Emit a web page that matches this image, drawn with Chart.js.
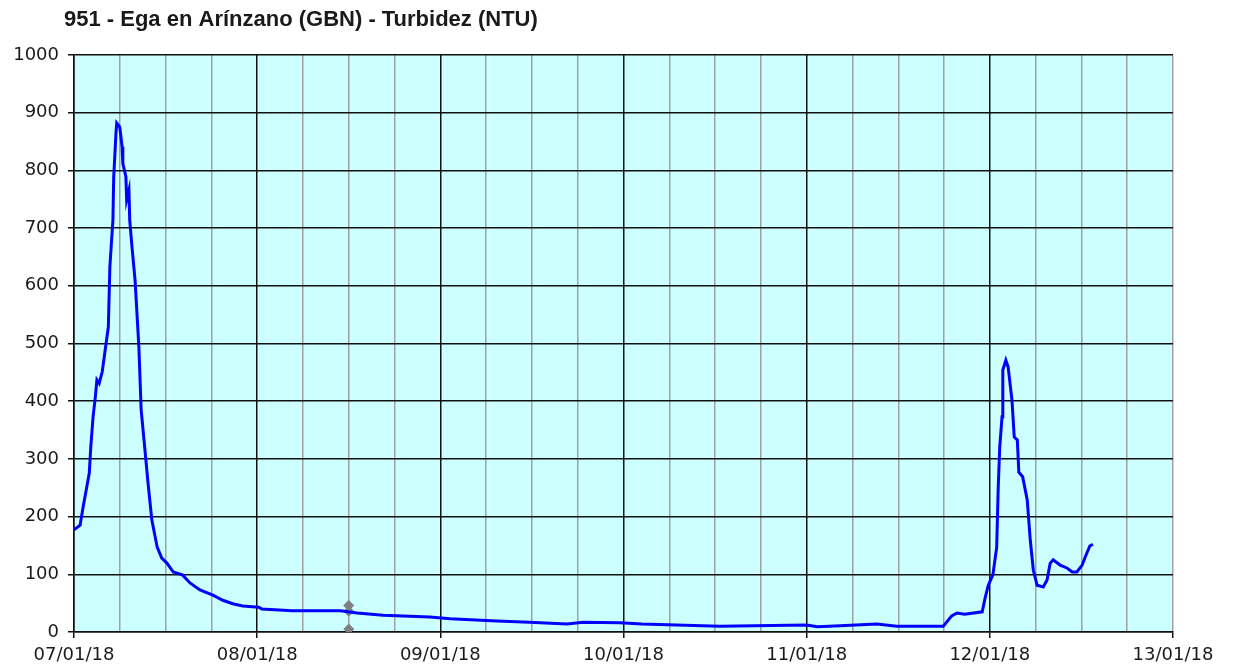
<!DOCTYPE html>
<html>
<head>
<meta charset="utf-8">
<script src="https://cdn.jsdelivr.net/npm/chart.js@4/dist/chart.umd.min.js"></script>
<style>
  html, body { margin: 0; padding: 0; background: #fff; }
  #wrap { width: 1233px; height: 672px; }
</style>
</head>
<body>
<div id="wrap"><canvas id="chart"></canvas></div>
<script>
const chartTitle = '951 - Ega en Arínzano (GBN) - Turbidez (NTU)';

// hours since 07/01/18 00:00
const hours = [
  0, 0.8, 1.2, 1.6, 2.0, 2.2, 2.5, 2.8, 3.0, 3.3, 3.7, 4.1, 4.5, 4.7, 5.1, 5.2, 5.5, 5.6,
  6.0, 6.3, 6.4, 6.8, 6.9, 7.2, 7.3, 7.6, 8.0, 8.3, 8.5, 8.8, 9.3, 9.7, 10.2, 10.9, 11.5,
  12.2, 13.0, 14.2, 15.2, 16.5, 18.2, 19.5, 20.8, 22.1, 24.2, 24.6, 28.6, 34.9, 37.1,
  40.5, 46.6, 49.3, 55.4, 59.7, 64.6, 66.7, 71.5, 74.4, 84.6, 96.0, 97.4, 100.4, 105.2,
  107.8, 113.9, 115.0, 115.7, 116.7, 119.0, 119.4, 119.8, 120.4, 120.9, 121.1, 121.3,
  121.6, 121.7, 122.1, 122.4, 122.9, 123.2, 123.6, 123.8, 124.3, 124.9, 125.3, 125.7,
  126.2, 127.0, 127.5, 127.9, 128.3, 129.2, 130.1, 130.8, 131.4, 132.1, 132.5, 133.1, 133.5
];
const turbidez = [
  177, 185, 217, 246, 275, 321, 373, 408, 437, 431, 451, 490, 529, 633, 714, 787, 865, 882,
  875, 841, 812, 789, 749, 766, 714, 667, 610, 541, 494, 385, 315, 258, 194, 147, 128,
  119, 104, 99, 85, 73, 64, 55, 49, 45, 43, 40, 37, 37, 33,
  29, 26, 23, 19, 17, 14, 17, 16, 14, 10, 12, 9, 11, 14,
  10, 10, 28, 33, 31, 35, 60, 81, 99, 147, 251, 321,
  373, 454, 471, 459, 402, 338, 333, 277, 269, 229, 159, 107,
  81, 78, 90, 119, 125, 116, 111, 104, 104, 116, 130, 149, 152
];

// grey marks at 08/01 12:00
const markHours = [36, 36, 36];
const markValues = [46, 36, 5];

const dayLabels = ['07/01/18', '08/01/18', '09/01/18', '10/01/18', '11/01/18', '12/01/18', '13/01/18'];

const plotBg = {
  id: 'plotBg',
  beforeDraw(chart) {
    const a = chart.chartArea, c = chart.ctx;
    c.save();
    c.fillStyle = '#ccffff';
    c.fillRect(a.left, a.top, a.right - a.left, a.bottom - a.top);
    c.restore();
  }
};

const titleText = {
  id: 'titleText',
  afterDraw(chart) {
    const c = chart.ctx;
    c.save();
    c.font = 'bold 22px "Liberation Sans", Arial, sans-serif';
    c.fillStyle = '#1a1a1a';
    c.textBaseline = 'middle';
    c.fillText(chartTitle, 64, 20);
    c.restore();
  }
};

const tickFont = { family: '"DejaVu Sans", Verdana, sans-serif', size: 18 };

new Chart(document.getElementById('chart'), {
  type: 'line',
  data: {
    datasets: [
      {
        data: hours.map((h, i) => ({x: h, y: turbidez[i]})),
        borderColor: '#0000ff',
        borderWidth: 3,
        pointRadius: 0,
        tension: 0
      },
      {
        data: markHours.map((h, i) => ({x: h, y: markValues[i]})),
        showLine: false,
        pointStyle: 'rectRot',
        pointRadius: 5,
        backgroundColor: '#808080',
        borderColor: '#808080'
      }
    ]
  },
  options: {
    responsive: true,
    maintainAspectRatio: false,
    animation: false,
    layout: { padding: { left: 0, top: 55, right: 60, bottom: 0 } },
    plugins: { legend: { display: false }, tooltip: { enabled: false } },
    scales: {
      x: {
        type: 'linear',
        min: 0,
        max: 144,
        afterFit(s) { s.height = 40; },
        ticks: {
          stepSize: 6,
          autoSkip: false,
          maxRotation: 0,
          padding: 7,
          color: '#1a1a1a',
          font: tickFont,
          callback: v => v % 24 === 0 ? dayLabels[v / 24] : ''
        },
        grid: {
          color: c => (c.tick && c.tick.value % 24 === 0 && c.tick.value !== 144) ? '#111' : '#a0a0a0',
          tickColor: c => (c.tick && c.tick.value % 24 === 0) ? '#111' : 'rgba(0,0,0,0)',
          lineWidth: 1.5,
          tickLength: 6
        },
        border: { color: '#111', width: 1.5 }
      },
      y: {
        min: 0,
        max: 1000,
        afterFit(s) { s.width = 74; },
        ticks: {
          stepSize: 100,
          padding: 9,
          color: '#1a1a1a',
          font: tickFont,
          callback: v => String(v)
        },
        grid: { color: '#111', lineWidth: 1.5, tickLength: 6 },
        border: { color: '#111', width: 1.5 }
      }
    }
  },
  plugins: [plotBg, titleText]
});
</script>
</body>
</html>
